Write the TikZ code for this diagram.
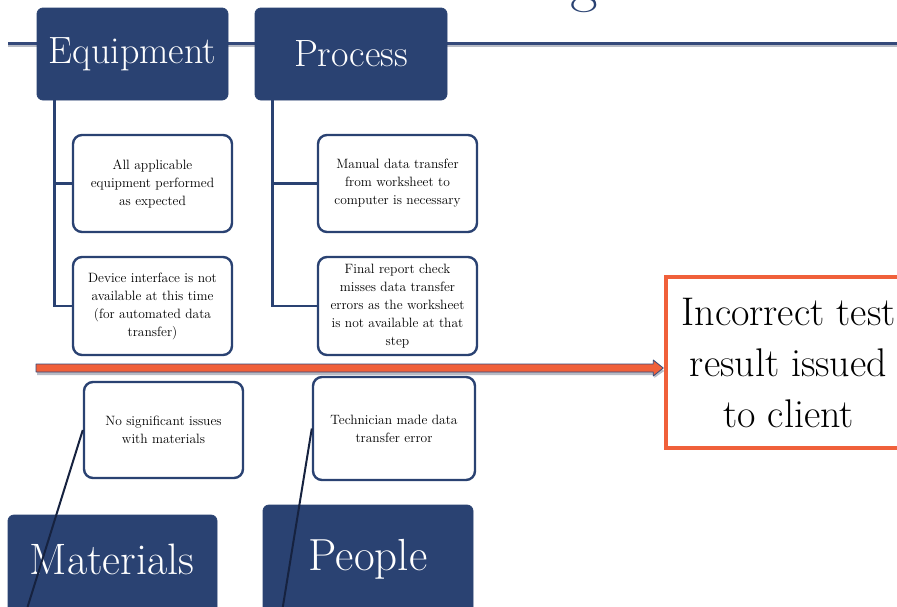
\documentclass[tikz,border=0pt]{standalone}
\usetikzlibrary{calc}
\definecolor{navy}{HTML}{2A4272}
\definecolor{linenavy}{HTML}{34497A}
\definecolor{darkbone}{HTML}{16223F}
\definecolor{orng}{HTML}{F0603A}
\definecolor{shad}{HTML}{B8BCC6}
\begin{document}
\begin{tikzpicture}[x=1pt,y=-1pt,
  catbox/.style={draw=navy, fill=navy, rounded corners=6pt, text=white, line width=0.8pt, inner sep=0pt},
  subbox/.style={draw=navy, fill=white, rounded corners=9pt, line width=2.4pt, align=center,
     font=\fontsize{13.5}{18}\selectfont, inner sep=0pt},
  spine/.style={draw=navy, line width=2.6pt},
  effectbox/.style={draw=orng, fill=white, line width=3.5pt, align=center, inner sep=0pt,
     font=\fontsize{40}{51}\selectfont}
]
\useasboundingbox (0,0) rectangle (897,606);
\fill[white] (0,0) rectangle (897,606);

% title fragment
\node[anchor=base, text=navy, font=\fontsize{60}{60}\selectfont, inner sep=0pt] (ttl) at (584,0) {g};

% top line with shadow
\coordinate (tl) at (8,43);
\coordinate (tr) at (905,43);
\draw[shad, line width=3pt] ($(tl)+(0,2)$) -- ($(tr)+(0,2)$);
\draw[linenavy, line width=3pt] (tl) -- (tr);

% category boxes
\node[catbox, minimum width=191pt, minimum height=92pt, font=\fontsize{38}{38}\selectfont] (equip) at (132.5,54) {Equipment};
\node[catbox, minimum width=192pt, minimum height=92pt, font=\fontsize{38}{38}\selectfont] (proc) at (351,54) {Process};
\node[catbox, minimum width=209pt, minimum height=110pt] (mat) at (112.5,570) {};
\node[text=white, font=\fontsize{44}{44}\selectfont, anchor=base, inner sep=0pt] (matt) at (112,574) {Materials};
\node[catbox, minimum width=210pt, minimum height=120pt] (peop) at (368,565) {};
\node[text=white, font=\fontsize{45}{45}\selectfont, anchor=base, inner sep=0pt] (peopt) at (368,570) {People};

% sub boxes
\node[subbox, minimum width=159pt, minimum height=97pt] (e1) at (152.5,183.5) {All applicable\\equipment performed\\as expected};
\node[subbox, minimum width=159pt, minimum height=98pt] (e2) at (152.5,306) {Device interface is not\\available at this time\\(for automated data\\transfer)};
\node[subbox, minimum width=159pt, minimum height=97pt] (p1) at (397.5,183.5) {Manual data transfer\\from worksheet to\\computer is necessary};
\node[subbox, minimum width=159pt, minimum height=98pt] (p2) at (397.5,306) {Final report check\\misses data transfer\\errors as the worksheet\\is not available at that\\step};
\node[subbox, minimum width=159pt, minimum height=96pt] (m1) at (163.5,430) {No significant issues\\with materials};
\node[subbox, minimum width=162pt, minimum height=103pt] (ppl) at (394,428.5) {Technician made data\\transfer error};

% spines
\draw[spine] ($(equip.south west)+(18,0)$) |- (e2.west);
\draw[spine] (e1.west) -- (e1.west -| {$(equip.south west)+(18,0)$});
\draw[spine] ($(proc.south west)+(18,0)$) |- (p2.west);
\draw[spine] (p1.west) -- (p1.west -| {$(proc.south west)+(18,0)$});

% diagonal bones
\coordinate (mb) at (26,612);
\coordinate (pb) at (282,612);
\draw[darkbone, line width=2pt] (m1.west) -- (mb);
\draw[darkbone, line width=2pt] (ppl.west) -- (pb);

% effect box
\node[effectbox, minimum width=245pt, minimum height=171pt] (eff) at (788.5,362.5) {Incorrect test\\result issued\\to client};

% main arrow
\coordinate (tail) at (36,368);
\coordinate (tip) at (eff.west |- tail);
\fill[shad] ($(tail)+(1,3)$) -- ($(tip)+(-10,-1)$) -- ($(tip)+(-10,-4)$) -- ($(tip)+(0,3)$) -- ($(tip)+(-10,10)$) -- ($(tip)+(-10,7)$) -- ($(tail)+(1,7)$) -- cycle;
\filldraw[fill=orng, draw=linenavy, line width=0.8pt, line join=round]
  ($(tail)+(0,-4)$) -- ($(tip)+(-11,-4)$) -- ($(tip)+(-11,-8)$) -- ($(tip)+(-1,0)$) -- ($(tip)+(-11,8)$) -- ($(tip)+(-11,4)$) -- ($(tail)+(0,4)$) -- cycle;
\end{tikzpicture}
\end{document}
